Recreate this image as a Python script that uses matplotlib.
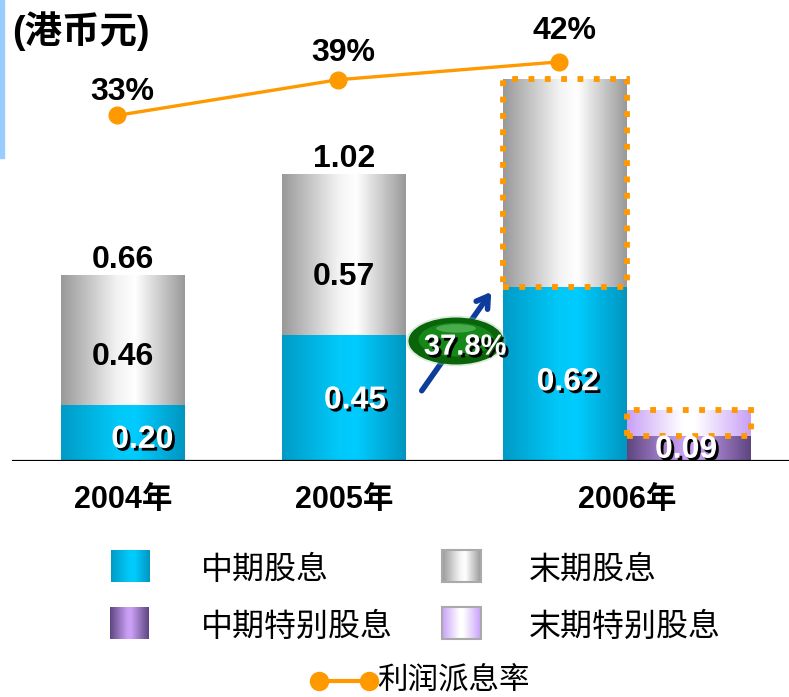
import numpy as np
import matplotlib
matplotlib.use("Agg")
import matplotlib.pyplot as plt
import matplotlib.patheffects as pe
from matplotlib.colors import LinearSegmentedColormap
from matplotlib.patches import Rectangle, Ellipse

plt.rcParams["font.family"] = ["Liberation Sans", "Noto Sans CJK SC", "DejaVu Sans"]

# dividends per share (HK$) and payout ratio
years = ["2004年", "2005年", "2006年"]
interim = [0.20, 0.45, 0.62]
final = [0.46, 0.57, 0.74]
totals = [0.66, 1.02, None]
special_interim = 0.09
special_final = 0.09
payout = [33, 39, 42]
growth_label = "37.8%"

legend_labels = ["中期股息", "末期股息", "中期特别股息", "末期特别股息"]
line_label = "利润派息率"

ORANGE = "#FF9900"
CYAN = (["#009BC6", "#00C8F8", "#00CCFF", "#0096C0"], [0.0, 0.45, 0.6, 1.0])
GRAY = (["#999999", "#F2F2F2", "#FFFFFF", "#999999"], [0.0, 0.45, 0.6, 1.0])
PURPLE = (["#5E4580", "#C9A0F5", "#C9A0F5", "#5E4580"], [0.0, 0.45, 0.55, 1.0])
LILAC = (["#C8A0F8", "#FFFFFF", "#FFFFFF", "#C8A0F8"], [0.0, 0.45, 0.55, 1.0])


def gradient(spec):
    colors, stops = spec
    cmap = LinearSegmentedColormap.from_list("g", list(zip(stops, colors)))
    return cmap(np.linspace(0, 1, 256))[None, :, :]


def fill_patch(ax, patch, spec, zorder=2):
    x0, y0 = patch.get_x(), patch.get_y()
    w, h = patch.get_width(), patch.get_height()
    ax.imshow(gradient(spec), extent=[x0, x0 + w, y0, y0 + h],
              aspect="auto", interpolation="bilinear", zorder=zorder)


def dotted_box(ax, patch):
    ax.add_patch(Rectangle((patch.get_x(), patch.get_y()), patch.get_width(),
                           patch.get_height(), fill=False, edgecolor=ORANGE,
                           linewidth=4.2, linestyle=(0, (1, 1.8)),
                           zorder=5, clip_on=False))


W, H = 789, 697
fig = plt.figure(figsize=(W / 100, H / 100), dpi=100)
ax = fig.add_axes([0, 1 - 461 / H, 1, 461 / H])

x = np.arange(len(years), dtype=float)
width = 0.561
shadow = [pe.withSimplePatchShadow(offset=(2, -2), shadow_rgbFace="black", alpha=1)]
value_font = dict(fontsize=23, fontweight="bold", ha="center", va="center")

b_int = ax.bar(x, interim, width, color="none", edgecolor="none")
b_fin = ax.bar(x, final, width, bottom=interim, color="none", edgecolor="none")
sx = x[2] + width
b_sint = ax.bar([sx], [special_interim], width, color="none", edgecolor="none")
b_sfin = ax.bar([sx], [special_final], width, bottom=[special_interim],
                color="none", edgecolor="none")

for p in b_int:
    fill_patch(ax, p, CYAN)
for p in b_fin:
    fill_patch(ax, p, GRAY)
fill_patch(ax, b_sint[0], PURPLE)
fill_patch(ax, b_sfin[0], LILAC)
dotted_box(ax, b_fin[2])
dotted_box(ax, b_sfin[0])

# value labels inside / above the bars
int_offsets = [(14, -5), (8, -2), (2, -6)]
fin_offsets = [(0, -12), (0, -16)]
for i, v in enumerate(interim):
    ax.annotate(f"{v:.2f}", (x[i], v / 2), xytext=int_offsets[i],
                textcoords="offset points", color="white",
                path_effects=shadow, zorder=6, **value_font)
for i in range(2):
    ax.annotate(f"{final[i]:.2f}", (x[i], interim[i] + final[i] / 2),
                xytext=fin_offsets[i], textcoords="offset points",
                color="black", zorder=6, **value_font)
    ax.annotate(f"{totals[i]:.2f}", (x[i], totals[i]), xytext=(0, 11),
                textcoords="offset points", color="black", zorder=6, **value_font)
ax.annotate(f"{special_interim:.2f}", (sx, special_interim / 2), xytext=(-2, -1),
            textcoords="offset points", color="white", path_effects=shadow,
            zorder=6, **value_font)

# growth arrow and badge between 2005 and 2006
ax.annotate("", xy=(x[2] - width / 2 - 0.046, interim[2] - 0.01),
            xytext=(x[1] + width / 2 + 0.064, 0.242),
            arrowprops=dict(arrowstyle="->,head_length=0.8,head_width=0.5",
                            color="#0D3C9C", lw=4), zorder=4)
cx, cy = (x[1] + x[2]) / 2 + 0.007, 0.427
ax.add_patch(Ellipse((cx, cy), 0.45, 0.18, facecolor="#9cc79c", alpha=0.35,
                     edgecolor="none", zorder=5))
ax.add_patch(Ellipse((cx, cy), 0.43, 0.167, facecolor="#0A640A",
                     edgecolor="none", zorder=5))
ax.add_patch(Ellipse((cx, cy + 0.005), 0.34, 0.12, facecolor="#16881A",
                     edgecolor="none", zorder=5))
ax.add_patch(Ellipse((cx, cy + 0.045), 0.18, 0.03, facecolor="#6CC46C",
                     edgecolor="none", alpha=0.6, zorder=5))
ax.text(cx + 0.041, cy - 0.02, growth_label, color="white", fontsize=21,
        fontweight="bold", ha="center", va="center", path_effects=shadow, zorder=6)

ax.axhline(0, xmin=13 / W, xmax=1, color="black", lw=1.6, zorder=7)
ax.set_xlim(-123 / 221, (W - 123) / 221)
ax.set_ylim(0, 461 / 281)
ax.set_xticks([x[0], x[1], x[2] + width / 2])
ax.set_xticklabels(years, fontsize=22, fontweight="bold")
ax.tick_params(axis="x", length=0, pad=17)
ax.set_yticks([])
for s in ax.spines.values():
    s.set_visible(False)
ax.patch.set_alpha(0)

# payout ratio line
ax2 = ax.twinx()
ax2.plot(x - 0.027, payout, color=ORANGE, lw=2.4, marker="o", markersize=12,
         zorder=8)
label_dy = [17, 19, 22]
for xi, p, dy in zip(x - 0.027, payout, label_dy):
    ax2.annotate(f"{p}%", (xi, p), xytext=(4, dy), textcoords="offset points",
                 ha="center", va="center", fontsize=23, fontweight="bold")
ax2.set_ylim(-25.08, 52.4)
ax2.set_xlim(ax.get_xlim())
ax2.set_yticks([])
for s in ax2.spines.values():
    s.set_visible(False)

# unit title and the thin accent strip on the left edge
fig.text(12 / W, 1 - 31 / H, "(港币元)", fontsize=27, fontweight="bold",
         ha="left", va="center")
fig.patches.append(Rectangle((0, 1 - 158 / H), 4 / W, 158 / H,
                             transform=fig.transFigure, color="#99CCFF"))

# legend drawn in pixel space
lg = fig.add_axes([0, 0, 1, 1])
lg.set_xlim(0, W)
lg.set_ylim(H, 0)
lg.axis("off")
swatches = [(111, 550, CYAN, False), (442, 550, GRAY, True),
            (110, 607, PURPLE, False), (442, 607, LILAC, True)]
text_x = [201, 529, 201, 529]
for (sx0, sy0, spec, framed), tx, label in zip(swatches, text_x, legend_labels):
    lg.imshow(gradient(spec), extent=[sx0, sx0 + 39, sy0 + 32, sy0],
              aspect="auto", interpolation="bilinear")
    if framed:
        lg.add_patch(Rectangle((sx0, sy0), 39, 32, fill=False,
                               edgecolor="#AAAAAA", lw=1.5))
    lg.text(tx, sy0 + 21, label, fontsize=23, ha="left", va="center")
lg.plot([319, 369], [681, 681], color=ORANGE, lw=3, marker="o", markersize=13)
lg.text(377, 680, line_label, fontsize=22, ha="left", va="center")
lg.set_xlim(0, W)
lg.set_ylim(H, 0)

fig.savefig("out.png", dpi=100)
